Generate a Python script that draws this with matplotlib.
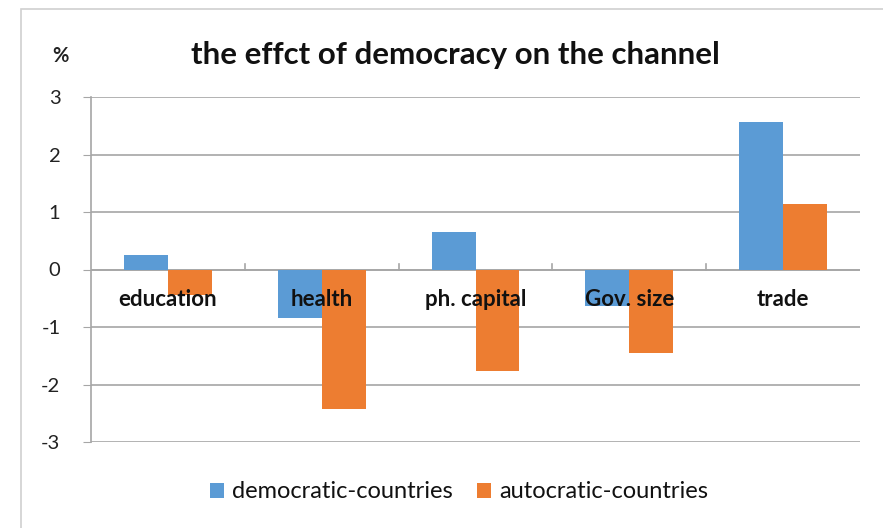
import numpy as np
import matplotlib.pyplot as plt
from matplotlib.patches import Rectangle

categories = ["education", "health", "ph. capital", "Gov. size", "trade"]
democratic = [0.25, -0.85, 0.65, -0.64, 2.56]
autocratic = [-0.45, -2.43, -1.77, -1.46, 1.14]
series_names = ["democratic-countries", "autocratic-countries"]
yticks = [-3, -2, -1, 0, 1, 2, 3]

blue = "#5B9BD5"
orange = "#ED7D31"
grid_col = "#A6A6A6"

plt.rcParams['font.family'] = ['Lato', 'DejaVu Sans']

W, H = 883, 528
fig = plt.figure(figsize=(W / 100, H / 100), dpi=100)
fig.patch.set_facecolor("white")

# outer chart border (screenshot frame)
fig.patches.append(Rectangle((21 / W, -0.05), 1.2, (H - 9) / H + 0.05, transform=fig.transFigure,
                             fill=False, edgecolor="#D0D0D0", linewidth=1.2))

left, right, top, bottom = 91, 860, 97, 442
ax = fig.add_axes([left / W, 1 - bottom / H, (right - left) / W, (bottom - top) / H])

x = np.arange(len(categories))
w = 0.286
ax.bar(x - w / 2, democratic, w, color=blue, label=series_names[0], zorder=3)
ax.bar(x + w / 2, autocratic, w, color=orange, label=series_names[1], zorder=3)

ax.set_xlim(-0.5, len(categories) - 0.5)
ax.set_ylim(-3, 3)
ax.set_yticks(yticks)
ax.set_yticklabels([str(v) for v in yticks], fontsize=14.5, color="#222222")
ax.tick_params(axis="y", length=6, color=grid_col, pad=16)
ax.yaxis.grid(True, color=grid_col, linewidth=1.2, zorder=0)
ax.set_xticks([])

for s in ["top", "right", "bottom"]:
    ax.spines[s].set_visible(False)
ax.spines["left"].set_color(grid_col)
ax.spines["left"].set_linewidth(1.2)

# zero axis with category ticks
ax.axhline(0, color=grid_col, linewidth=1.2, zorder=2)
for b in np.arange(0.5, len(categories) - 0.5, 1):
    ax.plot([b, b], [0, 0.09], color=grid_col, linewidth=1.2, zorder=2)

for xi, name in zip(x, categories):
    ax.text(xi, -0.52, name, ha="center", va="center", fontsize=16,
            fontweight="bold", color="#111111", zorder=4)

fig.text(455 / W, 1 - 55 / H, "the effct of democracy on the channel", ha="center", va="center",
         fontsize=22.5, fontweight="bold", color="#111111")
fig.text(60 / W, 1 - 56 / H, "%", ha="center", va="center", fontsize=14.5,
         fontweight="bold", color="#222222")

leg = fig.legend(loc="center", bbox_to_anchor=(459 / W, 1 - 492 / H), ncol=2, frameon=False,
                 fontsize=17, handlelength=0.6, handleheight=0.6, columnspacing=1.0,
                 handletextpad=0.35)
for t in leg.get_texts():
    t.set_color("#111111")

fig.savefig("out.png", dpi=100)
